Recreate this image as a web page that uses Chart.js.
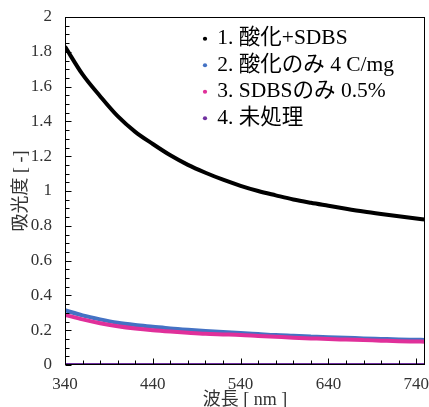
<!DOCTYPE html>
<html><head><meta charset="utf-8">
<script src="https://cdn.jsdelivr.net/npm/chart.js@4/dist/chart.umd.min.js"></script>
<style>html,body{margin:0;padding:0;background:#fff}#wrap{width:429px;height:407px}</style>
</head><body><div id="wrap"><canvas id="c" width="429" height="407"></canvas></div>
<script>
const wavelengths = [340,360,380,400,420,440,460,480,500,520,540,560,580,600,620,640,660,680,700,720,740,750];
const seriesNames = ['1. 酸化+SDBS','2. 酸化のみ 4 C/mg','3. SDBSのみ 0.5%','4. 未処理'];
const acidSdbs  = [1.83,1.67,1.545,1.43,1.34,1.27,1.205,1.15,1.105,1.065,1.03,1.0,0.975,0.951,0.932,0.915,0.898,0.882,0.868,0.855,0.842,0.836];
const acidOnly  = [0.315,0.285,0.262,0.243,0.23,0.22,0.21,0.202,0.195,0.189,0.184,0.178,0.172,0.168,0.164,0.16,0.157,0.153,0.15,0.147,0.145,0.144];
const sdbsOnly  = [0.288,0.262,0.24,0.223,0.21,0.20,0.192,0.185,0.179,0.176,0.173,0.167,0.162,0.157,0.153,0.149,0.146,0.143,0.14,0.137,0.135,0.134];
const untreated = [0,0,0,0,0,0,0,0,0,0,0,0,0,0,0,0,0,0,0,0,0,0];
const seriesColors = ['#000000','#4472c4','#e0309a','#7030a0'];
const xTickValues = [340,440,540,640,740];
const yTickValues = [0,0.2,0.4,0.6,0.8,1,1.2,1.4,1.6,1.8,2];
const xTitle = '波長 [ nm ]';
const yTitle = '吸光度 [ -]';

const FONT = "'Liberation Serif','Noto Sans CJK JP',serif";
const toPts = arr => wavelengths.map((w,i)=>({x:w,y:arr[i]}));
const allSeries = [acidSdbs, acidOnly, sdbsOnly, untreated];
const drawOrder = [0, 3, 2, 4];

const frameTicks = {
  id:'frameTicks',
  afterLayout(chart){
    chart.legend.left += 133.5;
    chart.legend.top += 23;
  },
  afterDraw(chart){
    const ctx = chart.ctx;
    try {
      const a = chart.chartArea, x = chart.scales.x, y = chart.scales.y;
      ctx.save();
      ctx.strokeStyle='#000'; ctx.lineWidth=1;
      const L=Math.round(a.left)+0.5, R=Math.round(a.right)-0.5, T=Math.round(a.top)+0.5, B=Math.round(a.bottom)-0.5;
      ctx.beginPath();
      for(let i=0; i<=40; i++){
        const v=i*0.05;
        const py=Math.round(y.getPixelForValue(v))+0.5;
        ctx.moveTo(L,py); ctx.lineTo(L+(i%4===0?6:4),py);
      }
      for(let v=340; v<=750; v+=20){
        const px=Math.round(x.getPixelForValue(v))+0.5;
        ctx.moveTo(px,B); ctx.lineTo(px,B-((v-340)%100===0?6:4));
      }
      ctx.stroke();
      ctx.strokeRect(L,T,R-L,B-T);
      ctx.restore();
    } catch(e) {
      ctx.fillStyle='red'; ctx.font='12px sans-serif'; ctx.fillText(String(e), 70, 250);
    }
  }
};

new Chart(document.getElementById('c'), {
  type:'line',
  data:{
    datasets: allSeries.map((arr,i)=>({
      label: seriesNames[i],
      data: toPts(arr),
      borderColor: seriesColors[i],
      backgroundColor: seriesColors[i],
      borderWidth: 4,
      pointRadius: 0,
      cubicInterpolationMode:'monotone',
      order: drawOrder[i]
    }))
  },
  options:{
    responsive:false, animation:false,
    layout:{padding:{left:0,right:4,top:17,bottom:0}},
    plugins:{
      tooltip:{enabled:false},
      legend:{
        position:'chartArea', align:'start',
        labels:{
          usePointStyle:true, pointStyle:'circle', boxWidth:3, boxHeight:3,
          padding:5, color:'#000',
          font:{family:FONT, size:21.5, lineHeight:1.0},
          sort:(a,b)=>a.datasetIndex-b.datasetIndex,
          generateLabels(chart){
            const items = Chart.defaults.plugins.legend.labels.generateLabels(chart);
            items.forEach(it=>{it.lineWidth=0;});
            return items;
          }
        }
      }
    },
    scales:{
      x:{
        type:'linear', min:340, max:750,
        afterBuildTicks(s){ s.ticks = xTickValues.map(v=>({value:v})); },
        afterFit(s){ s.height = 42; s.paddingRight = 0; s.paddingLeft = 0; },
        grid:{display:false, drawTicks:false},
        border:{display:false},
        ticks:{padding:9, color:'#333', font:{family:FONT,size:17}, maxRotation:0, autoSkip:false, callback:v=>String(v)},
        title:{display:true, text:xTitle, color:'#333', font:{family:FONT,size:18}, padding:{top:0,bottom:-4}}
      },
      y:{
        min:0, max:2,
        afterBuildTicks(s){ s.ticks = yTickValues.map(v=>({value:v})); },
        afterFit(s){ s.width = 65; s.paddingTop = 0; s.paddingBottom = 0; },
        grid:{display:false, drawTicks:false},
        border:{display:false},
        ticks:{padding:13, color:'#333', font:{family:FONT,size:17}, autoSkip:false, callback:v=>String(v)},
        title:{display:true, text:yTitle, color:'#333', font:{family:FONT,size:18}, padding:{top:10,bottom:0}}
      }
    }
  },
  plugins:[frameTicks]
});
</script>
</body></html>
